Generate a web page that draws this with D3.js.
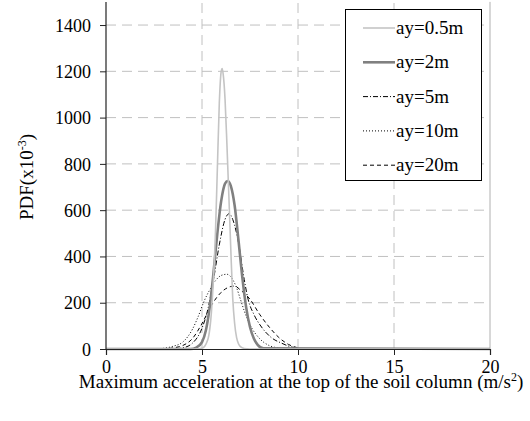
<!DOCTYPE html>
<html>
<head>
<meta charset="utf-8">
<script src="https://cdn.jsdelivr.net/npm/d3@7"></script>
<style>
    body { margin: 0; background: #fff; }
</style>
</head>
<body>
<div id="chart"></div>
<script>
// values (PDF in x10^-3)
const x05 = [0, 4.6, 5.0, 5.3, 5.5, 5.6, 5.7, 5.8, 5.9, 6.0, 6.05, 6.1, 6.2, 6.3, 6.4, 6.5, 6.6, 6.7, 6.8, 7.0, 7.2, 7.5, 20];
const y05 = [0, 0, 3, 40, 170, 310, 500, 780, 1060, 1200, 1212, 1190, 1080, 880, 660, 430, 220, 110, 50, 10, 2, 0, 0];

const x2 = [0, 4.4, 4.7, 5.0, 5.2, 5.4, 5.6, 5.8, 6.0, 6.2, 6.34, 6.5, 6.7, 6.9, 7.1, 7.3, 7.5, 7.7, 7.9, 8.2, 20];
const y2 = [0, 0, 6, 30, 80, 180, 330, 500, 640, 715, 726, 705, 620, 470, 310, 180, 95, 45, 18, 3, 0];

const x5 = [0, 3.5, 4.0, 4.5, 5.0, 5.3, 5.6, 5.9, 6.2, 6.42, 6.6, 6.9, 7.2, 7.4, 7.7, 8.1, 8.6, 9.15, 9.6, 10.0, 10.5, 20];
const y5 = [0, 0, 5, 25, 90, 170, 300, 450, 560, 585, 560, 460, 300, 215, 150, 95, 50, 25, 10, 3, 0, 0];

const x10 = [0, 2.5, 3.0, 3.5, 4.0, 4.5, 4.8, 5.1, 5.4, 5.7, 6.0, 6.3, 6.6, 6.8, 7.0, 7.2, 7.5, 8.0, 8.5, 9.0, 9.5, 20];
const y10 = [0, 0, 3, 12, 30, 85, 140, 205, 255, 295, 318, 323, 300, 265, 215, 165, 105, 45, 15, 4, 0, 0];

const x20 = [0, 3.0, 3.5, 4.0, 4.5, 5.0, 5.5, 6.0, 6.5, 6.7, 7.0, 7.5, 8.0, 8.5, 9.0, 9.5, 10.0, 10.5, 20];
const y20 = [0, 0, 5, 15, 45, 110, 190, 245, 270, 272, 255, 215, 150, 95, 50, 20, 5, 0, 0];

const seriesNames = ["ay=0.5m", "ay=2m", "ay=5m", "ay=10m", "ay=20m"];
const xTicks = [0, 5, 10, 15, 20];
const yTicks = [0, 200, 400, 600, 800, 1000, 1200, 1400];

const styles = [
    { color: "#c4c4c4", width: 1.6, dash: null },
    { color: "#808080", width: 2.6, dash: null },
    { color: "#000", width: 1, dash: "5,2,1,2" },
    { color: "#000", width: 1, dash: "1,2" },
    { color: "#000", width: 1, dash: "4,3" }
];

let series = [
    { name: seriesNames[0], xs: x05, ys: y05 },
    { name: seriesNames[1], xs: x2, ys: y2 },
    { name: seriesNames[2], xs: x5, ys: y5 },
    { name: seriesNames[3], xs: x10, ys: y10 },
    { name: seriesNames[4], xs: x20, ys: y20 }
].map((s, i) => ({ ...s, style: styles[i], points: s.xs.map((x, j) => ({ x: x, y: s.ys[j] })) }));

let width = 530, height = 421;
const serif = "'Liberation Serif', 'Times New Roman', serif";

let x = d3.scaleLinear().domain([0, 20]).range([106, 490]);
let y = d3.scaleLinear().domain([0, 1500]).range([349, 1.9]);

let svg = d3.select("#chart").append("svg")
    .attr("width", width)
    .attr("height", height);

// grid
svg.append("g").selectAll("line")
    .data(yTicks.filter(d => d > 0))
    .join("line")
    .attr("x1", x(0)).attr("x2", x(20))
    .attr("y1", d => y(d)).attr("y2", d => y(d))
    .attr("stroke", "#c0c0c0").attr("stroke-dasharray", "10,6");

svg.append("g").selectAll("line")
    .data(xTicks.filter(d => d > 0 && d < 20))
    .join("line")
    .attr("x1", d => x(d)).attr("x2", d => x(d))
    .attr("y1", y(0)).attr("y2", y(1500))
    .attr("stroke", "#c0c0c0").attr("stroke-dasharray", "10,6");

svg.append("line")
    .attr("x1", x(20)).attr("x2", x(20))
    .attr("y1", y(0)).attr("y2", y(1500))
    .attr("stroke", "#b0b0b0");

// curves
let line = d3.line()
    .x(d => x(d.x))
    .y(d => y(d.y))
    .curve(d3.curveMonotoneX);

// draw wide ones first so the thin spike stays on top
[4, 3, 2, 1, 0].forEach(i => {
    let s = series[i];
    svg.append("path")
        .datum(s.points)
        .attr("d", line)
        .attr("fill", "none")
        .attr("stroke", s.style.color)
        .attr("stroke-width", s.style.width)
        .attr("stroke-dasharray", s.style.dash);
});

// axes
let xAxis = svg.append("g")
    .attr("transform", "translate(0," + y(0) + ")")
    .call(d3.axisBottom(x).tickValues(xTicks).tickFormat(d3.format("d")).tickSize(6).tickPadding(5.5));

let yAxis = svg.append("g")
    .attr("transform", "translate(" + x(0) + ",0)")
    .call(d3.axisLeft(y).tickValues(yTicks).tickFormat(d3.format("d")).tickSize(6).tickPadding(9));

[xAxis, yAxis].forEach(a => {
    a.select(".domain").attr("stroke", "#222").attr("stroke-width", 1.2);
    a.selectAll(".tick line").attr("stroke", "#222");
    a.selectAll("text").attr("fill", "#000").style("font-size", "18px");
});
yAxis.select(".domain").attr("d", "M0," + y(0) + "V" + y(1500));
yAxis.selectAll(".tick text").attr("dy", "0.34em");

// axis titles
let xt = svg.append("text")
    .attr("x", 301).attr("y", 388)
    .attr("text-anchor", "middle")
    .style("font-size", "19px");
xt.append("tspan").text("Maximum acceleration at the top of the soil column (m/s");
xt.append("tspan").attr("dy", -7).style("font-size", "12px").text("2");
xt.append("tspan").attr("dy", 7).text(")");

let yt = svg.append("text")
    .attr("transform", "translate(33,177) rotate(-90)")
    .attr("text-anchor", "middle")
    .style("font-size", "19px");
yt.append("tspan").text("PDF(x10");
yt.append("tspan").attr("dy", -7).style("font-size", "12px").text("-3");
yt.append("tspan").attr("dy", 7).text(")");

// legend
let legend = svg.append("g");
legend.append("rect")
    .attr("x", 345.5).attr("y", 9.5)
    .attr("width", 136).attr("height", 171)
    .attr("fill", "#fff").attr("stroke", "#000");

let rows = legend.selectAll("g.row")
    .data(series)
    .join("g")
    .attr("class", "row")
    .attr("transform", (d, i) => "translate(0," + (28 + i * 34.3) + ")");

rows.append("line")
    .attr("x1", 363).attr("x2", 395)
    .attr("stroke", d => d.style.color)
    .attr("stroke-width", d => d.style.width)
    .attr("stroke-dasharray", d => d.style.dash);

rows.append("text")
    .attr("x", 396).attr("y", 6)
    .style("font-size", "19px")
    .text(d => d.name);

// one serif face for every label
svg.selectAll("text").style("font-family", serif).attr("fill", "#000");
</script>
</body>
</html>
